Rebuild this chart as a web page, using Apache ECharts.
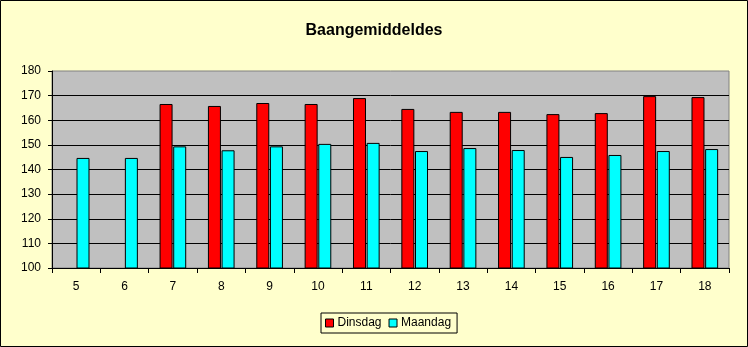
<!DOCTYPE html>
<html>
<head>
<meta charset="utf-8">
<script src="https://cdn.jsdelivr.net/npm/echarts@6/dist/echarts.min.js"></script>
<style>
  html, body { margin: 0; padding: 0; background: #FFFFCC; }
  #chart { width: 748px; height: 347px; }
</style>
</head>
<body>
<div id="chart"></div>
<script>
// Weeks on the x axis
const categories = ['5', '6', '7', '8', '9', '10', '11', '12', '13', '14', '15', '16', '17', '18'];
// Average per evening (no Tuesday games in weeks 5 and 6)
const dinsdag = [null, null, 166.6, 165.8, 167.0, 166.6, 169.0, 164.6, 163.4, 163.4, 162.5, 162.9, 169.8, 169.4];
const maandag = [144.7, 144.7, 149.4, 147.8, 149.4, 150.4, 150.8, 147.5, 148.7, 147.9, 145.1, 145.9, 147.5, 148.3];
const yTicks = { min: 100, max: 180, step: 10 };

const font = "'Liberation Sans', Arial, sans-serif";
const chart = echarts.init(document.getElementById('chart'), null, { renderer: 'canvas' });

chart.setOption({
  backgroundColor: '#FFFFCC',
  animation: false,
  textStyle: { fontFamily: font, color: '#000' },
  title: {
    text: 'Baangemiddeldes',
    left: 'center',
    top: 18,
    textStyle: { fontFamily: font, fontSize: 16, fontWeight: 'bold', color: '#000' }
  },
  graphic: [{
    type: 'rect',
    shape: { x: 0.5, y: 0.5, width: 747, height: 346 },
    style: { fill: 'none', stroke: '#000', lineWidth: 1 },
    silent: true
  }],
  legend: {
    data: ['Dinsdag', 'Maandag'],
    left: 321,
    top: 313,
    padding: [4, 6, 4, 4],
    borderColor: '#000',
    borderWidth: 1,
    itemWidth: 8,
    itemHeight: 8,
    itemGap: 7,
    icon: 'rect',
    itemStyle: { borderColor: '#000', borderWidth: 1 },
    textStyle: { fontFamily: font, fontSize: 12, color: '#000', padding: [0, 0, 0, -1] }
  },
  grid: {
    left: 52, top: 71, right: 19, bottom: 79,
    show: true,
    backgroundColor: '#C0C0C0',
    borderColor: '#808080',
    borderWidth: 1
  },
  xAxis: {
    type: 'category',
    data: categories,
    axisLine: { lineStyle: { color: '#000', width: 1 } },
    axisTick: { show: true, length: 5, lineStyle: { color: '#000' } },
    axisLabel: { fontFamily: font, fontSize: 12, color: '#000', margin: 13 }
  },
  yAxis: {
    type: 'value',
    min: yTicks.min,
    max: yTicks.max,
    interval: yTicks.step,
    axisLine: { show: true, lineStyle: { color: '#000', width: 1 } },
    axisTick: { show: true, length: 4, lineStyle: { color: '#000' } },
    axisLabel: { fontFamily: font, fontSize: 12, color: '#000', margin: 11 },
    splitLine: { show: true, showMaxLine: false, lineStyle: { color: '#000', width: 1 } }
  },
  series: [
    {
      name: 'Dinsdag',
      type: 'bar',
      data: dinsdag,
      barWidth: 13,
      barGap: '5%',
      itemStyle: { color: '#FF0000', borderColor: '#000', borderWidth: 1 }
    },
    {
      name: 'Maandag',
      type: 'bar',
      data: maandag,
      barWidth: 13,
      barGap: '5%',
      itemStyle: { color: '#00FFFF', borderColor: '#000', borderWidth: 1 }
    }
  ]
});
</script>
</body>
</html>
